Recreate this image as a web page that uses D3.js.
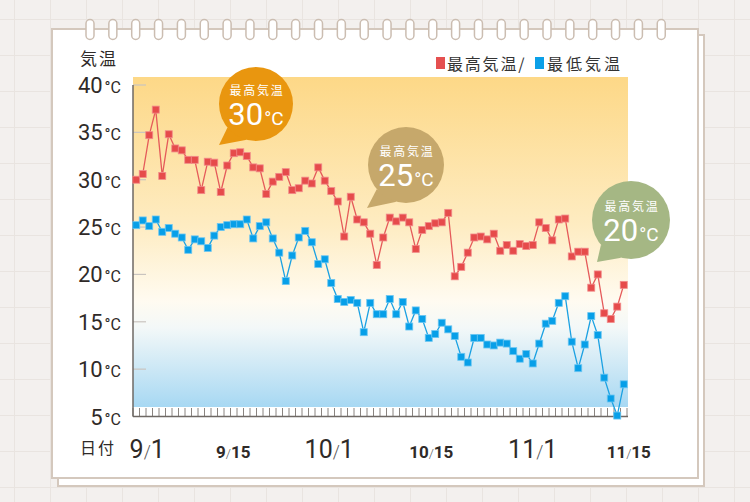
<!DOCTYPE html>
<html><head><meta charset="utf-8">
<script src="https://cdn.jsdelivr.net/npm/d3@7"></script>
<style>html,body{margin:0;padding:0;background:#f3f0ed;} svg{display:block}</style>
</head><body>
<svg id="c" width="750" height="502"></svg>
<script>
// ---------- DATA ----------
const startDate = new Date(2023, 8, 1);
const dates = d3.timeDay.range(startDate, new Date(2023, 10, 16)); // 9/1 .. 11/15
const highTemps = [30.0,30.6,34.7,37.4,30.4,34.8,33.3,33.1,32.1,32.1,
  28.9,31.9,31.8,28.7,31.5,32.8,32.9,32.5,31.3,31.2,
  28.5,29.8,30.3,30.8,28.9,29.1,29.9,29.6,31.3,29.9,
  28.8,27.7,24.0,28.2,25.8,25.5,24.3,21.0,23.9,26.0,
  25.6,26.0,25.5,22.7,24.7,25.1,25.4,25.5,26.5,19.8,
  20.8,22.3,23.9,24.0,23.7,24.3,22.5,23.1,22.5,23.2,
  23.0,23.1,25.5,24.9,23.6,25.8,25.9,21.9,22.4,22.4,
  18.6,20.0,15.9,15.3,16.6,18.9];
const lowTemps = [25.2,25.7,25.1,25.8,24.5,24.9,24.3,23.9,22.6,23.7,
  23.5,22.8,24.1,25.0,25.2,25.3,25.3,25.8,23.8,25.1,
  25.5,23.8,22.3,19.3,22.0,23.9,24.6,23.4,21.1,21.6,
  19.1,17.4,17.1,17.3,17.0,13.9,17.0,15.8,15.8,17.4,
  15.8,17.1,14.5,16.2,15.3,13.3,13.7,14.9,14.2,13.5,
  11.3,10.7,13.3,13.3,12.6,12.5,12.8,12.7,11.9,11.1,
  11.6,10.6,12.7,14.8,15.1,17.0,17.7,12.9,10.1,12.6,
  15.6,13.6,9.1,6.9,5.1,8.4];
const yTicks = [5,10,15,20,25,30,35,40];
const xTickLabels = ["9/1","9/15","10/1","10/15","11/1","11/15"];
const xTickMajor = [true,false,true,false,true,false];
const seriesNames = ["最高気温","最低気温"];
const bubbleTemps = [30,25,20];
const bubbleLabel = "最高気温";

// ---------- LAYOUT ----------
const W = 750, H = 502;
const plot = {left:133, right:627, top:77, bottom:407, axisY:416.5};
const labelNudge = [11, 6, -2, 9, 0, 5];
const bubbleGeom = [
  {cx:256, cy:104, r:37, tx:219, ty:145, color:"#e9960f"},
  {cx:406, cy:165, r:38, tx:367, ty:208, color:"#c6a86b"},
  {cx:631, cy:220, r:39, tx:597, ty:262, color:"#a5b784"}
];
const FONT_JP = "'Noto Sans CJK JP','Noto Sans',sans-serif";
const FONT_NUM = "Roboto,'Noto Sans',sans-serif";

const svg = d3.select("#c");
const defs = svg.append("defs");

// background grid
svg.append("rect").attr("width",W).attr("height",H).attr("fill","#f3f0ee");
const grid = svg.append("g").attr("stroke","#e9e4e0").attr("stroke-width",1);
for (let gx = 14; gx < W; gx += 36) grid.append("line").attr("x1",gx+.5).attr("x2",gx+.5).attr("y1",0).attr("y2",H);
for (let gy = 19; gy < H; gy += 36) grid.append("line").attr("y1",gy+.5).attr("y2",gy+.5).attr("x1",0).attr("x2",W);

// cards
svg.append("rect").attr("x",58).attr("y",35).attr("width",646).attr("height",451)
  .attr("fill","#fff").attr("stroke","#d4c8bd").attr("stroke-width",2);
svg.append("rect").attr("x",52).attr("y",29).attr("width",646).attr("height",449)
  .attr("fill","#fff").attr("stroke","#d4c8bd").attr("stroke-width",2);

// rings
const rings = svg.append("g");
d3.range(26).forEach(k => {
  const cx = 90 + k * 22.85;
  rings.append("rect").attr("x",cx-4).attr("y",19.5).attr("width",8).attr("height",20).attr("rx",4)
    .attr("fill","#fff").attr("stroke","#cbbdb1").attr("stroke-width",1.5);
});

// scales
const x = d3.scaleLinear().domain([-0.5, dates.length - 0.5]).range([plot.left, plot.right]);
const y = d3.scaleLinear().domain([5, 40]).range([plot.axisY, 85]);

// gradient background
const grad = defs.append("linearGradient").attr("id","bg").attr("x1",0).attr("x2",0).attr("y1",0).attr("y2",1);
[[0,"#fdd887"],[0.45,"#feecc2"],[0.68,"#fffbf1"],[0.76,"#f3f8f8"],[1,"#a7d8f3"]].forEach(s =>
  grad.append("stop").attr("offset",s[0]).attr("stop-color",s[1]));
svg.append("rect").attr("x",plot.left).attr("y",plot.top).attr("width",plot.right-plot.left+1)
  .attr("height",plot.bottom-plot.top).attr("fill","url(#bg)");

// day tick strip
const strip = svg.append("g");
strip.append("rect").attr("x",plot.left).attr("y",plot.bottom).attr("width",plot.right-plot.left+1)
  .attr("height",plot.axisY-plot.bottom).attr("fill","#fff");
d3.range(dates.length + 1).forEach(i => {
  const tx = x(i - 0.5);
  strip.append("line").attr("x1",tx).attr("x2",tx).attr("y1",plot.bottom+1).attr("y2",plot.axisY)
    .attr("stroke","#8a8480").attr("stroke-width",1);
});

// y ticks
const yg = svg.append("g");
yTicks.forEach(v => {
  if (v !== 5) yg.append("line").attr("x1",plot.left).attr("x2",146).attr("y1",y(v)).attr("y2",y(v))
    .attr("stroke","#c9c4bf").attr("stroke-width",1.2);
  const t = yg.append("text").attr("x",121).attr("y",y(v)+8).attr("text-anchor","end")
    .attr("fill","#2f2a28").attr("font-family",FONT_NUM);
  t.append("tspan").attr("font-size",22).text(v);
  t.append("tspan").attr("font-size",16).attr("dx",2).text("°C");
});
// axes lines
svg.append("line").attr("x1",plot.left).attr("x2",plot.left).attr("y1",85).attr("y2",plot.axisY)
  .attr("stroke","#6e6864").attr("stroke-width",1.5);
svg.append("line").attr("x1",plot.left).attr("x2",plot.right+1).attr("y1",plot.axisY).attr("y2",plot.axisY)
  .attr("stroke","#6e6864").attr("stroke-width",1.5);

// y title
svg.append("text").attr("x",80).attr("y",65).attr("font-size",17).attr("font-family",FONT_JP)
  .attr("fill","#2f2a28").attr("letter-spacing",2).text("気温");
// x title
svg.append("text").attr("x",80).attr("y",454).attr("font-size",16).attr("font-family",FONT_JP)
  .attr("fill","#2f2a28").attr("letter-spacing",2).text("日付");

// x labels
xTickLabels.forEach((lab, k) => {
  const idx = dates.findIndex(d => `${d.getMonth()+1}/${d.getDate()}` === lab);
  const big = xTickMajor[k];
  const parts = lab.split("/");
  const t = svg.append("text").attr("x", x(idx) + labelNudge[k]).attr("y",458)
    .attr("text-anchor","middle").attr("font-family",FONT_NUM).attr("fill","#2f2a28")
    .attr("font-weight", big ? 400 : 700);
  t.append("tspan").attr("font-size", big ? 25 : 17).text(parts[0]);
  t.append("tspan").attr("font-size", big ? 18 : 13).attr("font-weight",300).attr("fill","#555").text("/");
  t.append("tspan").attr("font-size", big ? 25 : 17).text(parts[1]);
});

// legend
const lg = svg.append("g");
lg.append("rect").attr("x",436).attr("y",57).attr("width",9).attr("height",12).attr("fill","#e55050");
lg.append("text").attr("x",447).attr("y",69.5).attr("font-size",16).attr("font-family",FONT_JP)
  .attr("fill","#333").attr("letter-spacing",1.8).text(seriesNames[0] + "/");
lg.append("rect").attr("x",535).attr("y",57).attr("width",9).attr("height",12).attr("fill","#0ba0e8");
lg.append("text").attr("x",547).attr("y",69.5).attr("font-size",16).attr("font-family",FONT_JP)
  .attr("fill","#333").attr("letter-spacing",3).text(seriesNames[1]);

// series
const line = d3.line().x((d,i) => x(i)).y(d => y(d));
const series = [
  {vals: highTemps, line:"#e55a5a", fill:"#e64b4b", stroke:"#f28a8a"},
  {vals: lowTemps, line:"#1ba1e2", fill:"#079fe8", stroke:"#6cc6f2"}
];
series.forEach(s => {
  svg.append("path").datum(s.vals).attr("d",line).attr("fill","none")
    .attr("stroke",s.line).attr("stroke-width",1.3);
  svg.append("g").selectAll("rect").data(s.vals).join("rect")
    .attr("x",(d,i)=>x(i)-3.5).attr("y",d=>y(d)-3.5).attr("width",7).attr("height",7)
    .attr("fill",s.fill).attr("stroke",s.stroke).attr("stroke-width",0.8);
});

// bubbles
bubbleGeom.forEach((b, k) => {
  const g = svg.append("g");
  const a1 = Math.PI * 0.78, a2 = Math.PI * 0.58;
  g.append("path").attr("d", `M${b.cx + b.r*Math.cos(a1)},${b.cy + b.r*Math.sin(a1)} L${b.tx},${b.ty} L${b.cx + b.r*Math.cos(a2)},${b.cy + b.r*Math.sin(a2)} Z`)
    .attr("fill", b.color);
  g.append("circle").attr("cx",b.cx).attr("cy",b.cy).attr("r",b.r).attr("fill",b.color);
  g.append("text").attr("x",b.cx+1).attr("y",b.cy-9).attr("text-anchor","middle")
    .attr("font-size",12).attr("letter-spacing",1.8).attr("font-family",FONT_JP).attr("fill","#fff").text(bubbleLabel);
  const t = g.append("text").attr("x",b.cx).attr("y",b.cy+21).attr("text-anchor","middle")
    .attr("font-family",FONT_NUM).attr("fill","#fff");
  t.append("tspan").attr("font-size",31).text(bubbleTemps[k]);
  t.append("tspan").attr("font-size",19).attr("dx",1).text("°C");
});
</script>
</body></html>
